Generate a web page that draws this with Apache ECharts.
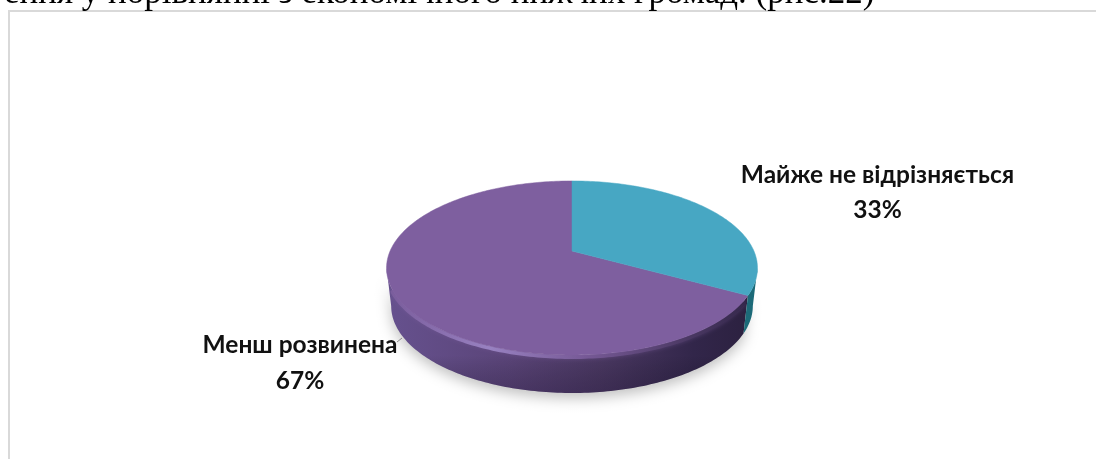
<!DOCTYPE html>
<html><head><meta charset="utf-8">
<style>html,body{margin:0;padding:0;background:#fff;overflow:hidden}#c{width:1096px;height:459px}</style>
<script src="https://cdn.jsdelivr.net/npm/echarts@6/dist/echarts.min.js"></script>
</head><body><div id="c"></div>
<script>
const categories = ['Майже не відрізняється', 'Менш розвинена'];
const values = [33, 67];
const topColors = ['#47a7c3', '#7e5f9f'];
const headerText = 'ення у порівнянні з економічного нижчих громад. (рис.22)';

const chart = echarts.init(document.getElementById('c'));
const total = values[0] + values[1];
const CX = 572, CY = 251, A = 181.9, B = 83.7, K = 0.195;
const proj = (deg) => {
  const t = deg * Math.PI / 180, u = Math.sin(t), v = -Math.cos(t), w = 1 - K * v;
  return [CX + A * u / w, CY + B * v / w];
};
const lower = (p) => [CX + (p[0] - CX) * 0.975, p[1] + 38];
const arc = (a, b) => {
  const pts = [], n = Math.max(2, Math.ceil(Math.abs(b - a)));
  for (let i = 0; i <= n; i++) pts.push(proj(a + (b - a) * i / n));
  return pts;
};
const hGrad = (stops) => ({ type: 'linear', x: 0, y: 0, x2: 1, y2: 0, colorStops: stops.map(s => ({ offset: s[0], color: s[1] })) });
const vGrad = (stops) => ({ type: 'linear', x: 0, y: 0, x2: 0, y2: 1, colorStops: stops.map(s => ({ offset: s[0], color: s[1] })) });
const EDGE_R = Math.acos(-K) * 180 / Math.PI;
const EDGE_L = 360 - EDGE_R;

function renderSlice(params, api) {
  const idx = api.value(0);
  const start = values.slice(0, idx).reduce((s, v) => s + v, 0) / total * 360;
  const end = start + api.value(1) / total * 360;
  const top = arc(start, end);
  const children = [];
  const wa = Math.max(start, EDGE_R), wb = Math.min(end, EDGE_L);
  if (wb > wa) {
    const edge = arc(wa, wb);
    const wall = edge.concat(edge.slice().reverse().map(lower));
    children.push({
      type: 'polygon', shape: { points: wall },
      style: idx === 0
        ? { fill: '#1c6a78' }
        : {
            fill: hGrad([[0, '#66518e'], [0.35, '#5a4478'], [0.6, '#4a3862'], [0.85, '#32264a'], [1, '#2c2140']]),
            shadowBlur: 14, shadowColor: 'rgba(0,0,0,0.25)', shadowOffsetY: 5
          }
    });
    if (idx === 1) {
      children.push({ type: 'polygon', shape: { points: wall },
        style: { fill: vGrad([[0, 'rgba(0,0,0,0)'], [0.7, 'rgba(0,0,0,0)'], [1, 'rgba(20,10,40,0.25)']]) } });
      const rim = arc(wa + 4, wb - 14).map(p => [p[0], p[1] + 2]);
      children.push({ type: 'polyline', shape: { points: rim },
        style: { fill: 'none', lineWidth: 4, opacity: 0.8, lineCap: 'round', shadowBlur: 4, shadowColor: 'rgba(126,95,159,0.5)',
          stroke: hGrad([[0, '#7e5f9f'], [0.28, '#a58fd0'], [0.55, '#7e5f9f'], [0.85, '#4a3862'], [1, '#33274a']]) } });
    }
  }
  children.push({
    type: 'polygon', shape: { points: [[CX, CY]].concat(top) },
    style: { fill: topColors[idx], stroke: topColors[idx], lineWidth: 0.5 }
  });
  return { type: 'group', children };
}

const labelFont = 'bold 24.5px Lato, "Open Sans"';
chart.setOption({
  animation: false,
  graphic: [
    { type: 'rect', shape: { x: 9, y: 11, width: 1200, height: 600 }, style: { fill: '#fff', stroke: '#d9d9d9', lineWidth: 2 } },
    { type: 'text', x: 4, y: -24, style: { text: headerText, font: '35px "Liberation Serif"', fill: '#000' } },
    { type: 'text', x: 877.5, y: 158, style: { text: categories[0] + '\n' + values[0] + '%', align: 'center', lineHeight: 35, font: labelFont, fill: '#111' } },
    { type: 'text', x: 300, y: 327, style: { text: categories[1] + '\n' + values[1] + '%', align: 'center', lineHeight: 36, font: labelFont, fill: '#111' } },
    { type: 'line', shape: { x1: 397, y1: 342, x2: 402, y2: 338 }, style: { stroke: '#999', lineWidth: 1 } }
  ],
  series: [{
    type: 'custom', coordinateSystem: 'none', silent: true,
    data: values.map((v, i) => [i, v]).reverse(),
    renderItem: renderSlice
  }]
});
</script></body></html>
